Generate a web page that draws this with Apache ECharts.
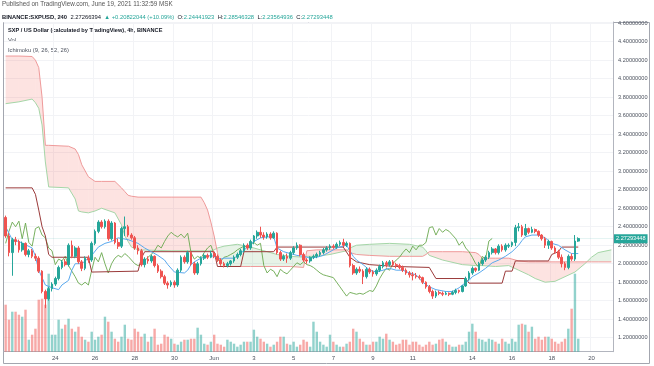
<!DOCTYPE html>
<html><head><meta charset="utf-8">
<script src="https://cdn.jsdelivr.net/npm/echarts@6/dist/echarts.min.js"></script>
<style>html,body{margin:0;padding:0;background:#fff}#c{width:654px;height:366px}</style>
</head><body><div id="c"></div>
<script>
// ---- time axis (4h slots) ----
const startTime = Date.UTC(2021, 4, 21, 12);
const slotCount = 184;
const categories = [];
for (let i = 0; i < slotCount; i++) {
  categories.push(new Date(startTime + i * 4 * 3600e3).toISOString().slice(0, 16).replace('T', ' '));
}
const tickDates = ['2021-05-24','2021-05-26','2021-05-28','2021-05-30','2021-06-01','2021-06-03','2021-06-05','2021-06-07','2021-06-09','2021-06-11','2021-06-14','2021-06-16','2021-06-18','2021-06-20'];
const tickLabels = ['24','26','28','30','Jun','3','5','7','9','11','14','16','18','20'];

// ---- candles [open, close, low, high] ----
const candles = [
[2.50,2.30,2.28,2.52],[2.30,2.12,2.08,2.33],[2.12,2.26,1.87,2.28],[2.26,2.24,2.20,2.29],[2.24,2.15,2.12,2.26],
[2.15,2.22,2.13,2.24],[2.22,2.10,2.08,2.23],[2.10,2.14,2.07,2.16],[2.14,2.08,2.06,2.16],[2.08,2.06,2.03,2.11],
[2.06,1.92,1.90,2.08],[1.92,1.70,1.68,1.93],[1.70,1.62,1.52,1.72],[1.62,1.73,1.60,1.75],[1.73,1.78,1.70,1.80],
[1.78,1.84,1.76,1.86],[1.84,1.96,1.82,1.98],[1.96,2.02,1.94,2.04],[2.02,1.99,1.97,2.05],[1.99,2.20,1.97,2.22],
[2.20,2.08,2.06,2.25],[2.08,2.17,2.06,2.19],[2.17,2.02,2.00,2.19],[2.02,1.95,1.92,2.04],[1.95,2.06,1.93,2.08],
[2.06,2.04,2.01,2.09],[2.04,2.22,2.02,2.24],[2.22,2.35,2.20,2.37],[2.35,2.45,2.33,2.47],[2.45,2.40,2.38,2.47],
[2.40,2.46,2.38,2.48],[2.46,2.27,2.25,2.48],[2.27,2.44,2.25,2.46],[2.44,2.23,2.21,2.45],[2.23,2.19,2.16,2.27],
[2.19,2.38,2.17,2.40],[2.38,2.40,2.30,2.51],[2.40,2.31,2.29,2.42],[2.31,2.28,2.26,2.33],[2.28,2.17,2.15,2.30],
[2.17,2.14,2.10,2.20],[2.14,1.99,1.97,2.16],[1.99,2.05,1.96,2.07],[2.05,2.03,2.00,2.08],[2.03,2.08,2.01,2.10],
[2.08,1.98,1.96,2.09],[1.98,1.92,1.90,2.00],[1.92,1.86,1.84,1.94],[1.86,1.79,1.77,1.88],[1.79,1.77,1.73,1.81],
[1.77,1.80,1.75,1.82],[1.80,1.77,1.74,1.82],[1.77,1.93,1.75,1.95],[1.93,2.07,1.91,2.09],[2.07,2.02,2.00,2.09],
[2.02,2.12,2.00,2.14],[2.12,2.00,1.98,2.14],[2.00,1.90,1.88,2.02],[1.90,2.00,1.88,2.02],[2.00,2.06,1.98,2.08],
[2.06,2.09,2.04,2.11],[2.09,2.07,2.05,2.11],[2.07,2.11,2.06,2.14],[2.11,2.08,2.06,2.14],[2.08,2.04,2.02,2.10],
[2.04,2.00,1.98,2.06],[2.00,1.98,1.96,2.02],[1.98,2.00,1.96,2.02],[2.00,2.03,1.98,2.04],[2.03,2.07,2.01,2.09],
[2.07,2.10,2.05,2.12],[2.10,2.14,2.08,2.16],[2.14,2.20,2.12,2.22],[2.20,2.17,2.15,2.22],[2.17,2.24,2.15,2.26],
[2.24,2.30,2.21,2.31],[2.30,2.34,2.27,2.36],[2.34,2.31,2.28,2.40],[2.31,2.29,2.26,2.34],[2.29,2.32,2.27,2.34],
[2.32,2.28,2.26,2.34],[2.28,2.33,2.27,2.35],[2.33,2.12,2.10,2.34],[2.12,2.05,2.03,2.14],[2.05,2.08,2.03,2.10],
[2.08,2.06,2.01,2.11],[2.06,2.12,2.04,2.14],[2.12,2.17,2.10,2.19],[2.17,2.20,2.15,2.23],[2.20,2.10,2.08,2.21],
[2.10,2.04,2.02,2.12],[2.04,2.03,2.00,2.06],[2.03,2.07,2.01,2.08],[2.07,2.08,2.05,2.10],[2.08,2.10,2.06,2.12],
[2.10,2.12,2.08,2.14],[2.12,2.15,2.10,2.17],[2.15,2.17,2.13,2.19],[2.17,2.19,2.15,2.21],[2.19,2.18,2.16,2.21],
[2.18,2.21,2.16,2.23],[2.21,2.23,2.19,2.25],[2.23,2.20,2.18,2.27],[2.20,2.22,2.18,2.24],[2.22,1.98,1.96,2.23],
[1.98,1.90,1.88,2.00],[1.90,1.94,1.88,1.96],[1.94,1.92,1.90,1.97],[1.92,1.86,1.78,1.94],[1.86,1.94,1.84,1.96],
[1.94,1.91,1.89,1.96],[1.91,1.89,1.86,1.93],[1.89,1.93,1.87,1.95],[1.93,1.97,1.91,1.99],[1.97,2.01,1.95,2.03],
[2.01,1.99,1.96,2.03],[1.99,2.02,1.97,2.04],[2.02,1.99,1.97,2.04],[1.99,1.98,1.95,2.01],[1.98,1.96,1.94,2.00],
[1.96,1.93,1.91,1.98],[1.93,1.90,1.88,1.95],[1.90,1.88,1.85,1.92],[1.88,1.87,1.82,1.91],[1.87,1.86,1.84,1.90],
[1.86,1.85,1.83,1.88],[1.85,1.80,1.78,1.86],[1.80,1.75,1.73,1.81],[1.75,1.70,1.68,1.77],[1.70,1.65,1.62,1.72],
[1.65,1.69,1.63,1.71],[1.69,1.68,1.66,1.71],[1.68,1.67,1.65,1.70],[1.67,1.68,1.66,1.70],[1.68,1.67,1.65,1.69],
[1.67,1.69,1.66,1.71],[1.69,1.71,1.67,1.73],[1.71,1.70,1.68,1.72],[1.70,1.76,1.69,1.77],[1.76,1.84,1.75,1.86],
[1.84,1.90,1.82,1.92],[1.90,1.95,1.88,1.97],[1.95,1.93,1.91,1.96],[1.93,2.00,1.92,2.02],[2.00,2.04,1.98,2.06],
[2.04,2.07,2.02,2.09],[2.07,2.12,2.05,2.14],[2.12,2.16,2.10,2.18],[2.16,2.12,2.10,2.17],[2.12,2.19,2.10,2.21],
[2.19,2.15,2.13,2.21],[2.15,2.20,2.13,2.22],[2.19,2.20,2.17,2.22],[2.20,2.23,2.18,2.24],[2.23,2.39,2.19,2.42],
[2.39,2.40,2.35,2.44],[2.40,2.31,2.29,2.42],[2.31,2.38,2.30,2.43],[2.38,2.34,2.32,2.39],[2.34,2.37,2.33,2.40],
[2.37,2.35,2.33,2.38],[2.35,2.31,2.29,2.36],[2.31,2.27,2.25,2.32],[2.27,2.20,2.17,2.29],[2.20,2.24,2.16,2.26],
[2.24,2.17,2.15,2.25],[2.17,2.13,2.11,2.19],[2.13,2.07,2.05,2.15],[2.07,2.00,1.96,2.10],[2.00,1.96,1.93,2.02],
[1.96,2.08,1.94,2.10],[2.08,2.05,2.03,2.11],[2.05,2.245,2.03,2.31],[2.2444,2.2729,2.2356,2.2855]
];

// ---- volume (one per candle) ----
const volumes = [
47,32,40,40,37,35,42,12,17,23,52,53,47,78,17,17,32,23,27,33,23,20,25,15,12,10,20,12,15,17,35,30,20,13,10,15,27,13,
12,23,20,15,18,10,15,23,7,8,17,15,13,8,7,10,12,12,13,13,24,17,8,7,10,17,8,7,5,12,10,8,5,7,10,10,10,22,15,13,
10,8,5,7,10,15,15,8,7,10,5,7,12,10,5,30,20,10,7,5,17,10,7,5,5,8,10,23,20,13,10,7,7,10,10,15,13,18,12,
10,7,8,12,12,7,10,10,7,5,7,10,7,8,12,13,10,7,5,5,7,7,10,20,28,20,13,12,10,13,12,10,8,13,10,8,13,10,27,
28,27,20,25,13,15,12,15,15,13,10,8,10,13,23,43,78,13
];

// ---- Ichimoku lines, read at turning points: [slot index, price] ----
const conversionLine = [[0,2.40],[2,2.26],[4,2.24],[8,2.17],[9,2.08],[10,1.93],[12,1.77],[14,1.74],[16,1.72],[17,1.77],[19,1.82],[20,1.93],[21,2.00],[23,2.00],[26,2.09],[28,2.18],[30,2.22],[32,2.24],[34,2.28],[37,2.26],[40,2.22],[42,2.17],[44,2.13],[46,2.09],[48,2.04],[49,1.99],[51,1.91],[54,1.90],[55,1.93],[56,1.99],[57,2.02],[59,2.06],[62,2.09],[65,2.05],[66,2.06],[69,2.06],[71,2.11],[73,2.18],[75,2.24],[77,2.28],[79,2.29],[81,2.29],[82,2.17],[84,2.13],[86,2.11],[88,2.09],[90,2.08],[92,2.06],[94,2.07],[96,2.09],[98,2.13],[100,2.17],[103,2.20],[105,2.08],[106,2.04],[108,1.99],[110,1.93],[112,1.91],[114,1.93],[116,1.95],[118,1.93],[120,1.93],[122,1.90],[124,1.88],[126,1.80],[128,1.75],[130,1.72],[133,1.70],[135,1.70],[137,1.74],[138,1.77],[140,1.82],[141,1.86],[143,1.90],[145,1.95],[147,2.01],[149,2.04],[151,2.08],[153,2.13],[155,2.20],[156,2.25],[157,2.29],[159,2.31],[161,2.31],[163,2.28],[165,2.22],[167,2.20],[169,2.15],[171,2.11],[173,2.11]];
const baseLine = [[0,2.82],[8,2.82],[9,2.75],[10,2.58],[11,2.40],[12,2.30],[13,2.10],[14,2.07],[25,2.07],[26,1.91],[40,1.92],[41,2.06],[42,2.13],[63,2.13],[64,1.97],[71,1.97],[72,2.13],[81,2.13],[82,2.18],[102,2.18],[104,2.07],[106,2.02],[110,1.99],[118,1.97],[128,1.96],[129,1.90],[130,1.84],[139,1.84],[140,1.79],[150,1.79],[151,1.92],[153,1.92],[154,2.03],[164,2.03],[165,2.10],[167,2.13],[168,2.18],[173,2.18]];
const spanIdx = [0,4,8,9,10,11,12,13,19,21,22,23,25,27,29,33,35,36,37,38,40,50,59,60,61,62,63,64,65,66,70,74,78,82,86,90,91,94,98,103,104,106,110,116,122,126,127,128,132,138,142,143,144,148,152,155,158,160,163,166,169,172,175,177,179,183];
const leadA = [3.73,3.75,3.78,3.74,3.68,3.50,3.10,2.83,2.82,2.70,2.57,2.56,2.55,2.57,2.60,2.55,2.42,2.30,2.24,2.18,2.15,2.14,2.14,2.14,2.14,2.14,2.15,2.17,2.18,2.19,2.21,2.18,2.14,2.10,2.08,2.07,2.08,2.08,2.10,2.14,2.17,2.20,2.21,2.22,2.21,2.18,2.14,2.09,2.04,1.99,1.98,1.98,1.98,1.97,1.98,1.93,1.88,1.84,1.80,1.81,1.86,1.91,2.00,2.07,2.12,2.15];
const leadB = [4.245,4.245,4.24,4.20,4.12,3.80,3.28,3.28,3.27,3.24,3.18,3.07,2.94,2.89,2.89,2.89,2.82,2.78,2.74,2.73,2.72,2.72,2.72,2.66,2.58,2.45,2.30,2.12,1.97,1.97,1.97,1.97,1.97,1.97,1.97,1.96,2.14,2.15,2.15,2.15,2.12,2.10,2.09,2.08,2.08,2.08,2.10,2.13,2.13,2.13,2.12,2.10,2.06,2.06,2.06,2.03,2.02,2.02,2.02,2.02,2.02,2.02,2.02,2.02,2.02,2.02];
const laggingShift = 26;
const lastPrice = 2.27293448;

// ---- build library data ----
const UP = '#26a69a', DOWN = '#ef5350';
const volData = volumes.map((v, i) => ({
  value: v,
  itemStyle: { color: candles[i][1] >= candles[i][0] ? 'rgba(38,166,154,0.5)' : 'rgba(239,83,80,0.5)' }
}));
const lagging = candles.map((c, i) => [i - laggingShift, c[1]]).filter(p => p[0] >= 0);
const spanAData = spanIdx.map((x, k) => [x, leadA[k]]);
const spanBData = spanIdx.map((x, k) => [x, leadB[k]]);
const cloudSegs = [];
for (let k = 0; k < spanIdx.length - 1; k++) {
  cloudSegs.push([spanIdx[k], leadA[k], leadB[k], spanIdx[k + 1], leadA[k + 1], leadB[k + 1]]);
}
const GREEN_FILL = 'rgba(67,160,71,0.13)', RED_FILL = 'rgba(244,67,54,0.15)';

function renderCloud(params, api) {
  const i0 = api.value(0), a0 = api.value(1), b0 = api.value(2);
  const i1 = api.value(3), a1 = api.value(4), b1 = api.value(5);
  const pa0 = api.coord([i0, a0]), pb0 = api.coord([i0, b0]);
  const pa1 = api.coord([i1, a1]), pb1 = api.coord([i1, b1]);
  const d0 = a0 - b0, d1 = a1 - b1;
  const polys = [];
  if (d0 * d1 >= 0) {
    polys.push({ pts: [pa0, pa1, pb1, pb0], up: (d0 + d1) >= 0 });
  } else {
    const t = d0 / (d0 - d1);
    const pc = [pa0[0] + t * (pa1[0] - pa0[0]), pa0[1] + t * (pa1[1] - pa0[1])];
    polys.push({ pts: [pa0, pc, pb0], up: d0 > 0 });
    polys.push({ pts: [pc, pa1, pb1], up: d1 > 0 });
  }
  return {
    type: 'group',
    children: polys.map(p => ({ type: 'polygon', shape: { points: p.pts }, style: { fill: p.up ? GREEN_FILL : RED_FILL } }))
  };
}

const isTick = (idx, val) => {
  const d = val.slice(0, 10), h = val.slice(11);
  return h === '00:00' && tickDates.indexOf(d) >= 0;
};
const FONT = '"Liberation Sans", Arial, sans-serif';

const chart = echarts.init(document.getElementById('c'), null, { renderer: 'canvas' });
chart.setOption({
  animation: false,
  backgroundColor: '#ffffff',
  grid: { left: 4, right: 41, top: 22, bottom: 14.3, show: false },
  xAxis: {
    type: 'category', data: categories, boundaryGap: true,
    axisLine: { lineStyle: { color: '#b2b5be' } },
    axisTick: { show: false },
    axisLabel: {
      interval: isTick, fontSize: 6, color: '#4c525e', margin: 4, fontFamily: FONT,
      formatter: (val) => tickLabels[tickDates.indexOf(val.slice(0, 10))]
    },
    splitLine: { show: true, interval: isTick, lineStyle: { color: '#f2f3f6', width: 1 } }
  },
  yAxis: [{
    type: 'value', position: 'right', min: 1.049, max: 4.613, splitNumber: 18, scale: true,
    axisLine: { show: true, lineStyle: { color: '#b2b5be' } },
    axisTick: { show: false },
    axisLabel: { fontSize: 5.6, color: '#4c525e', margin: 5, fontFamily: FONT,
      showMinLabel: false, showMaxLabel: false, formatter: v => v.toFixed(8) },
    splitLine: { show: true, lineStyle: { color: '#f2f3f6', width: 1 } }
  }, {
    type: 'value', min: 0, max: 329.7, show: false
  }],
  series: [
    { type: 'custom', name: 'cloud', data: cloudSegs, renderItem: renderCloud, silent: true, z: 1,
      encode: { x: [0, 3], y: [1, 2, 4, 5] } },
    { type: 'bar', name: 'Vol', data: volData, yAxisIndex: 1, barWidth: 2.4, z: 2, silent: true },
    { type: 'line', name: 'Lead 1', data: spanAData, symbol: 'none', lineStyle: { color: '#a5d6a7', width: 1 }, z: 3, silent: true },
    { type: 'line', name: 'Lead 2', data: spanBData, symbol: 'none', lineStyle: { color: '#ef9a9a', width: 1 }, z: 3, silent: true },
    { type: 'line', name: 'Lagging', data: lagging, symbol: 'none', lineStyle: { color: '#6aa84f', width: 1, opacity: 0.9 }, z: 4, silent: true },
    { type: 'line', name: 'Base', data: baseLine, symbol: 'none', lineStyle: { color: '#9b3a3a', width: 1 }, z: 4, silent: true },
    { type: 'line', name: 'Conversion', data: conversionLine, symbol: 'none', lineStyle: { color: '#5aa9ee', width: 1 }, z: 4, silent: true },
    { type: 'candlestick', name: 'SXPUSD', data: candles, barWidth: 2.2, z: 5,
      itemStyle: { color: UP, color0: DOWN, borderColor: UP, borderColor0: DOWN, borderWidth: 1 },
      markLine: {
        silent: true, symbol: ['none', 'none'],
        data: [{ yAxis: lastPrice }],
        lineStyle: { color: 'rgba(38,166,154,0.12)', type: 'solid', width: 1 },
        label: { show: true, position: 'end', distance: 1, formatter: () => lastPrice.toFixed(8),
          backgroundColor: UP, color: '#ffffff', fontSize: 5.6, padding: [2, 2, 1, 2], fontFamily: FONT }
      }
    }
  ],
  graphic: [
    { type: 'rect', shape: { x: 3.5, y: 22.5, width: 646, height: 341 }, style: { fill: null, stroke: '#a3a6af', lineWidth: 1 }, silent: true },
    { type: 'text', left: 2, top: 1, style: { text: 'Published on TradingView.com, June 19, 2021 11:32:59 MSK', fill: '#555', fontSize: 6.3, fontFamily: FONT } },
    { type: 'text', left: 2, top: 11, style: {
      text: '{b|BINANCE:SXPUSD, 240} {n|2.27266394} {g|▲ +0.20822044 (+10.09%)} {n|O:}{g|2.24441923} {n|H:}{g|2.28546328} {n|L:}{g|2.23564936} {n|C:}{g|2.27293448}',
      rich: {
        b: { fontSize: 5.8, fontWeight: 'bold', fill: '#131722', fontFamily: FONT },
        n: { fontSize: 5.8, fill: '#131722', fontFamily: FONT },
        g: { fontSize: 5.8, fill: '#26a69a', fontFamily: FONT }
      } } },
    { type: 'text', left: 8, top: 27, style: { text: 'SXP / US Dollar (calculated by TradingView), 4h, BINANCE', fill: '#131722', fontSize: 5.6, fontWeight: 'bold', fontFamily: FONT } },
    { type: 'text', left: 8, top: 37, style: { text: 'Vol', fill: '#4c525e', fontSize: 5.8, fontFamily: FONT } },
    { type: 'text', left: 8, top: 47, style: { text: 'Ichimoku (9, 26, 52, 26)', fill: '#4c525e', fontSize: 5.8, fontFamily: FONT } }
  ]
});
</script>
</body></html>
